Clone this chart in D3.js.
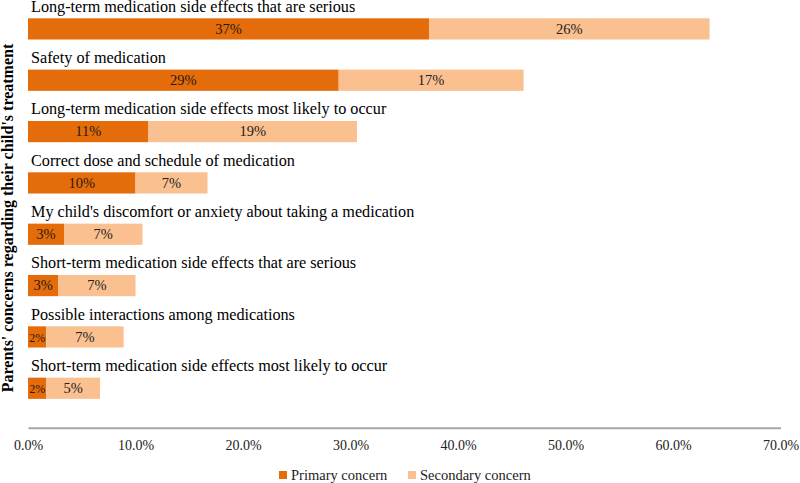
<!DOCTYPE html>
<html><head><meta charset="utf-8">
<script src="https://cdn.jsdelivr.net/npm/d3@7"></script>
<style>body{margin:0;background:#fff}svg{display:block}text{font-family:"Liberation Serif","Times New Roman",serif}</style>
</head><body><svg id="c" width="800" height="483"></svg>
<script>
const categories = [
  "Long-term medication side effects that are serious",
  "Safety of medication",
  "Long-term medication side effects most likely to occur",
  "Correct dose and schedule of medication",
  "My child's discomfort or anxiety about taking a medication",
  "Short-term medication side effects that are serious",
  "Possible interactions among medications",
  "Short-term medication side effects most likely to occur"
];
const primary = [37.3, 28.9, 11.2, 10.0, 3.35, 2.8, 1.7, 1.7];
const secondary = [26.1, 17.2, 19.4, 6.7, 7.3, 7.2, 7.2, 5.0];
const primaryLabels = ["37%","29%","11%","10%","3%","3%","2%","2%"];
const secondaryLabels = ["26%","17%","19%","7%","7%","7%","7%","5%"];
const xTicks = [0,10,20,30,40,50,60,70];
const seriesNames = ["Primary concern","Secondary concern"];
const colors = ["#E46C0A","#FAC090"];

const svg = d3.select("#c");
const x = d3.scaleLinear().domain([0,70]).range([28,780.5]);
const y = d3.scaleBand().domain(categories).range([0,410.7]).paddingInner(0).paddingOuter(0);
const barOff = 18.3, barH = 21.2;

const g = svg.append("g");
categories.forEach((c,i)=>{
  const by = y(c)+barOff;
  g.append("text").attr("x",31).attr("y",y(c)+11.6).attr("font-size",16.2).attr("fill","#000").text(c);
  g.append("rect").attr("x",x(0)).attr("y",by).attr("width",x(primary[i])-x(0)).attr("height",barH).attr("fill",colors[0]);
  g.append("rect").attr("x",x(primary[i])).attr("y",by).attr("width",x(primary[i]+secondary[i])-x(primary[i])).attr("height",barH).attr("fill",colors[1]);
  const small = primary[i] < 2.5;
  g.append("text").attr("x",(x(0)+x(primary[i]))/2).attr("y",by+barH/2+4.8).attr("text-anchor","middle")
    .attr("font-size", small?12:14.5).attr("fill","#2a1a10").text(primaryLabels[i]);
  g.append("text").attr("x",(x(primary[i])+x(primary[i]+secondary[i]))/2).attr("y",by+barH/2+4.8).attr("text-anchor","middle")
    .attr("font-size",14.5).attr("fill","#222").text(secondaryLabels[i]);
});

const axis = d3.axisBottom(x).tickValues(xTicks).tickFormat(d=>d.toFixed(1)+"%").tickSize(0).tickPadding(12);
const ax = svg.append("g").attr("transform","translate(0,427.7)").call(axis);
ax.select(".domain").attr("stroke","#A6A6A6").attr("stroke-width",2);
ax.selectAll("text").attr("font-size",14).attr("fill","#222").attr("font-family","Liberation Serif");

svg.append("text").attr("transform","translate(13,218) rotate(-90)").attr("text-anchor","middle")
  .attr("font-size",16).attr("font-weight","bold").text("Parents' concerns regarding their child's treatment");

const leg = svg.append("g");
const lx = [279, 408];
seriesNames.forEach((n,i)=>{
  leg.append("rect").attr("x",lx[i]).attr("y",471).attr("width",8).attr("height",8).attr("fill",colors[i]);
  leg.append("text").attr("x",lx[i]+12).attr("y",480).attr("font-size",14.5).attr("fill","#222").text(n);
});
</script></body></html>
